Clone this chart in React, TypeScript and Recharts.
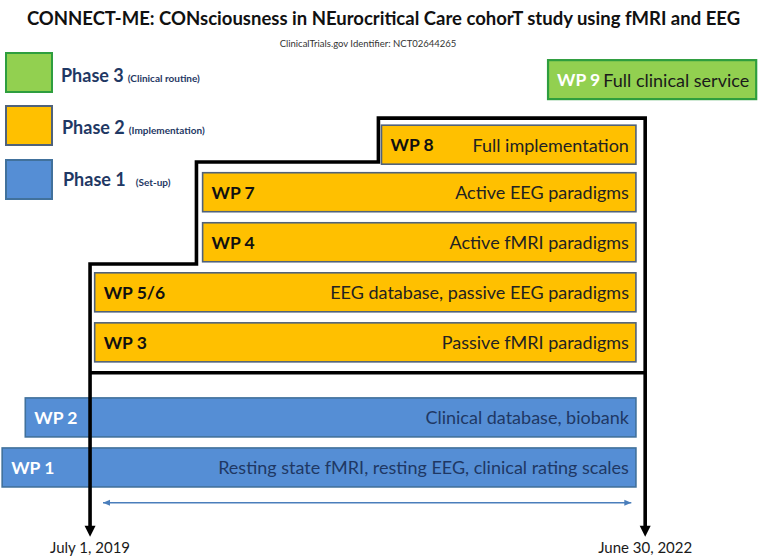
import React from "react";
import {
  ComposedChart,
  Bar,
  Line,
  Scatter,
  XAxis,
  YAxis,
  Legend,
} from "recharts";

// ---------- data ----------
const tasks = ["WP 9", "WP 8", "WP 7", "WP 4", "WP 5/6", "WP 3", "WP 2", "WP 1"];
const descriptions = [
  "Full clinical service",
  "Full implementation",
  "Active EEG paradigms",
  "Active fMRI paradigms",
  "EEG database, passive EEG paradigms",
  "Passive fMRI paradigms",
  "Clinical database, biobank",
  "Resting state fMRI, resting EEG, clinical rating scales",
];
const taskPhases = [3, 2, 2, 2, 2, 2, 1, 1];
// months relative to July 1, 2019
const startMonths = [29.7, 18.9, 7.3, 7.3, 0.3, 0.3, -4.2, -5.7];
const endMonths = [43.2, 35.4, 35.4, 35.4, 35.4, 35.4, 35.4, 35.4];
const taskRows = [0, 5.2, 9, 13, 17, 21, 27, 31];

const phaseIds = [3, 2, 1];
const phaseNames = ["Phase 3", "Phase 2", "Phase 1"];
const phaseNotes = ["(Clinical routine)", "(Implementation)", "(Set-up)"];

const dateTicks = [0, 36];
const dateLabels = ["July 1, 2019", "June 30, 2022"];

const outlineMonths = [0, 0, 6.9, 6.9, 18.7, 18.7, 36, 36];
const outlineRows = [35.8, 14.7, 14.7, 6.55, 6.55, 3.04, 3.04, 35.8];
const baseMonths = [0, 36];
const baseRows = [23.4, 23.4];
const arrowTipMonths = [0, 36];
const arrowTipRows = [36.5, 36.5];
const spanMonths = [0.84, 35.1];
const spanRows = [33.78, 33.78];

const TITLE = "CONNECT-ME: CONsciousness in NEurocritical Care cohorT study using fMRI and EEG";
const SUBTITLE = "ClinicalTrials.gov Identifier: NCT02644265";

// ---------- derived tables ----------
const taskData = tasks.map((t, i) => ({
  task: t,
  desc: descriptions[i],
  phase: taskPhases[i],
  range: [startMonths[i], endMonths[i]],
  row: taskRows[i],
}));
const outlineData = outlineMonths.map((m, i) => ({ month: m, row: outlineRows[i] }));
const baseData = baseMonths.map((m, i) => ({ month: m, row: baseRows[i] }));
const tipData = arrowTipMonths.map((m, i) => ({ month: m, row: arrowTipRows[i] }));
const spanData = spanMonths.map((m, i) => ({ month: m, row: spanRows[i], dir: i === 0 ? -1 : 1 }));

// ---------- styles ----------
const FONT = "Lato, 'Liberation Sans', sans-serif";
const NAVY = "#1f3864";
const BAR_THICKNESS = 39;
const phaseStyle: Record<number, any> = {
  3: { fill: "#92d050", stroke: "#2e9e3e", sw: 2.2, wp: "#ffffff", desc: "#1a1a1a" },
  2: { fill: "#ffc000", stroke: "#50627a", sw: 1.6, wp: "#111111", desc: "#222222" },
  1: { fill: "#558ed5", stroke: "#41719c", sw: 1.6, wp: "#ffffff", desc: NAVY },
};

const TaskShape = (p: any) => {
  const { x, y, width, height, payload } = p;
  const st = phaseStyle[payload.phase];
  const cy = y + height / 2;
  return (
    <g>
      <rect
        x={x}
        y={cy - BAR_THICKNESS / 2}
        width={width}
        height={BAR_THICKNESS}
        fill={st.fill}
        stroke={st.stroke}
        strokeWidth={st.sw}
      />
      <text x={x + 9} y={cy} dominantBaseline="central" fontFamily={FONT} fontWeight={700} fontSize={17.5} fill={st.wp}>
        {payload.task}
      </text>
      <text x={x + width - 7} y={cy} textAnchor="end" dominantBaseline="central" fontFamily={FONT} fontSize={18} fill={st.desc}>
        {payload.desc}
      </text>
    </g>
  );
};

const DownArrowHead = (p: any) => {
  const { cx, cy } = p;
  return <polygon points={`${cx - 5.5},${cy - 11} ${cx + 5.5},${cy - 11} ${cx},${cy}`} fill="#000" />;
};

const SideArrowHead = (p: any) => {
  const { cx, cy, payload } = p;
  const d = payload.dir;
  return <polygon points={`${cx},${cy} ${cx - d * 7},${cy - 3} ${cx - d * 7},${cy + 3}`} fill="#4a7ebb" />;
};

const PhaseLegend = () => (
  <div style={{ position: "relative", width: 260, height: 210, fontFamily: FONT }}>
    {phaseIds.map((id, i) => {
      const st = phaseStyle[id];
      return (
        <div key={id} style={{ position: "absolute", left: 5, top: 52.5 + i * 53.3, height: 40, display: "flex", alignItems: "center" }}>
          <div style={{ width: 44, height: 37, background: st.fill, border: `2px solid ${st.stroke}` }} />
          <div style={{ marginLeft: 8 + i, paddingTop: 4 - i * 2, color: NAVY, whiteSpace: "nowrap" }}>
            <span style={{ fontWeight: 700, fontSize: 18 }}>{phaseNames[i]}</span>
            <span style={{ fontWeight: 700, fontSize: 10, marginLeft: i === 2 ? 10 : 4 }}>{phaseNotes[i]}</span>
          </div>
        </div>
      );
    })}
  </div>
);

export default function App() {
  return (
    <div style={{ position: "absolute", left: 0, top: 0, width: 767, height: 557, background: "#fff", overflow: "hidden" }}>
      <ComposedChart
        width={767}
        height={557}
        layout="vertical"
        data={taskData}
        margin={{ top: 5, right: 0, bottom: 0.3, left: 0 }}
      >
        <XAxis
          type="number"
          domain={[-5.84, 43.9]}
          ticks={dateTicks}
          tickFormatter={(v: number) => dateLabels[dateTicks.indexOf(v)]}
          axisLine={false}
          tickLine={false}
          tickMargin={0}
          height={20}
          interval={0}
          tick={{ fontFamily: FONT, fontSize: 15, fill: "#1a1a1a" }}
        />
        <YAxis type="number" dataKey="row" domain={[-6, 36.5]} hide width={0} />
        <Legend
          layout="horizontal"
          verticalAlign="middle"
          align="center"
          content={() => <PhaseLegend />}
          wrapperStyle={{ position: "absolute", left: 0, top: 0, width: 260, height: 210 }}
        />
        <Bar dataKey="range" barSize={39} shape={TaskShape} isAnimationActive={false} />
        <Line
          data={outlineData}
          dataKey="month"
          type="linear"
          stroke="#000"
          strokeWidth={3.6}
          dot={false}
          activeDot={false}
          isAnimationActive={false}
        />
        <Line
          data={baseData}
          dataKey="month"
          type="linear"
          stroke="#000"
          strokeWidth={3.6}
          dot={false}
          activeDot={false}
          isAnimationActive={false}
        />
        <Scatter data={tipData} dataKey="month" shape={DownArrowHead} isAnimationActive={false} />
        <Line
          data={spanData}
          dataKey="month"
          type="linear"
          stroke="#4a7ebb"
          strokeWidth={1.5}
          dot={false}
          activeDot={false}
          isAnimationActive={false}
        />
        <Scatter data={spanData} dataKey="month" shape={SideArrowHead} isAnimationActive={false} />
      </ComposedChart>
      <div
        style={{
          position: "absolute",
          left: 0,
          top: 7,
          width: 767,
          textAlign: "center",
          fontFamily: FONT,
          fontWeight: 700,
          fontSize: 18.5,
          color: "#111",
          whiteSpace: "nowrap",
        }}
      >
        {TITLE}
      </div>
      <div
        style={{
          position: "absolute",
          left: 268,
          top: 38,
          width: 200,
          textAlign: "center",
          fontFamily: FONT,
          fontSize: 9.5,
          color: "#333",
          whiteSpace: "nowrap",
        }}
      >
        {SUBTITLE}
      </div>
    </div>
  );
}
